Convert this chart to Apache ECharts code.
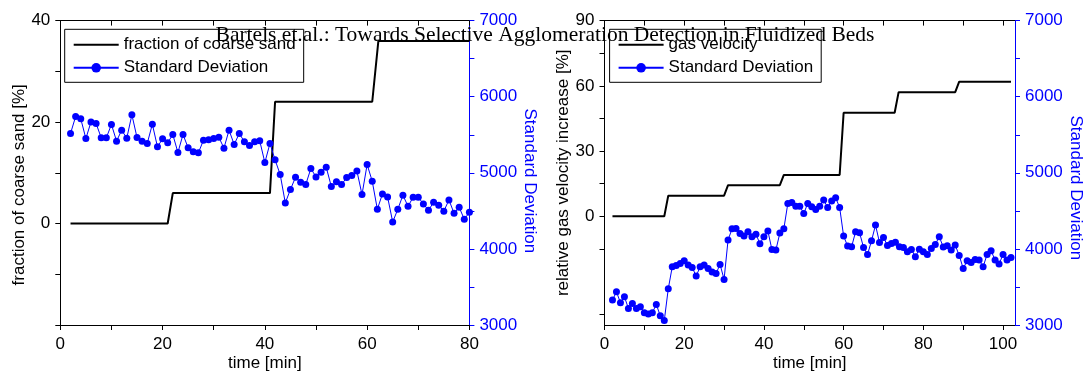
<!DOCTYPE html>
<html><head><meta charset="utf-8">
<script src="https://cdn.jsdelivr.net/npm/echarts@6/dist/echarts.min.js"></script>
<style>html,body{margin:0;padding:0;background:#fff}#c{width:1086px;height:371px}</style>
</head><body><div id="c"></div>
<script>
// ---------- DATA ----------
const titleText = 'Bartels et.al.: Towards Selective Agglomeration Detection in Fluidized Beds';

// Left panel: fraction of coarse sand (step line)
const fracTime = [2, 21, 22, 41, 42, 61, 62.2, 80];
const fracValue = [0, 0, 6, 6, 24, 24, 36, 36];

// Left panel: standard deviation, sampled every minute
const leftSdTime = [2,3,4,5,6,7,8,9,10,11,12,13,14,15,16,17,18,19,20,21,22,23,24,25,26,27,28,29,30,31,32,33,34,35,36,37,38,39,40,41,42,43,44,45,46,47,48,49,50,51,52,53,54,55,56,57,58,59,60,61,62,63,64,65,66,67,68,69,70,71,72,73,74,75,76,77,78,79,80];
const leftSdValue = [5517,5740,5710,5451,5666,5648,5460,5460,5635,5416,
  5560,5455,5762,5464,5416,5385,5639,5341,5446,5394,
  5503,5267,5503,5328,5275,5262,5429,5433,5451,5468,
  5324,5560,5372,5517,5407,5359,5407,5420,5135,5385,
  5170,4977,4604,4780,4942,4876,4846,5056,4946,5008,
  5074,4819,4881,4846,4938,4964,5025,4714,5109,4889,
  4521,4723,4683,4354,4521,4705,4560,4679,4679,4591,
  4508,4613,4574,4495,4644,4468,4547,4389,4482];

// Right panel: relative gas velocity increase (step line)
const gasTime = [2, 15, 16, 30, 31, 44, 45, 59, 60, 72.8, 73.8, 88, 89, 102];
const gasValue = [0, 0, 9.5, 9.5, 14.3, 14.3, 19, 19, 47.6, 47.6, 57.1, 57.1, 61.9, 61.9];

// Right panel: standard deviation, sampled every minute
const rightSdTime = [2,3,4,5,6,7,8,9,10,11,12,13,14,15,16,17,18,19,20,21,22,23,24,25,26,27,28,29,30,31,32,33,34,35,36,37,38,39,40,41,42,43,44,45,46,47,48,49,50,51,52,53,54,55,56,57,58,59,60,61,62,63,64,65,66,67,68,69,70,71,72,73,74,75,76,77,78,79,80,81,82,83,84,85,86,87,88,89,90,91,92,93,94,95,96,97,98,99,100,101,102];
const rightSdValue = [3327,3437,3292,3371,3218,3284,3218,3240,3161,3143,
  3161,3270,3121,3060,3476,3765,3783,3809,3844,3787,
  3757,3643,3765,3787,3743,3695,3678,3796,3599,4116,
  4265,4269,4203,4168,4225,4160,4194,4068,4160,4234,
  3993,3984,4208,4265,4598,4611,4562,4562,4466,4598,
  4554,4519,4562,4641,4545,4628,4672,4545,4168,4037,
  4028,4225,4212,4019,3927,4107,4313,4085,4151,4046,
  4072,4089,4028,4019,3962,3993,3897,3997,3962,3927,
  4006,4059,4160,4024,4041,3984,4050,3914,3743,3844,
  3822,3862,3853,3765,3927,3976,3853,3800,3927,3853,3888];

// Tick / label values
const leftXTicks = [0,10,20,30,40,50,60,70,80];
const leftXLabels = [0,20,40,60,80];
const leftYTicks = [-20,-10,0,10,20,30,40];
const leftYLabels = [0,20,40];
const rightXTicks = [0,10,20,30,40,50,60,70,80,90,100];
const rightXLabels = [0,20,40,60,80,100];
const rightYTicks = [-45,-15,0,15,30,45,60,75,90];
const rightYLabels = [0,30,60,90];
const sdTicks = [3000,3500,4000,4500,5000,5500,6000,6500,7000];
const sdLabels = [3000,4000,5000,6000,7000];

// ---------- CHART ----------
const FONT = 'Liberation Sans';
const BLUE = '#0000ff';
const zip = (a, b) => a.map((x, i) => [x, b[i]]);
const plain = v => String(v);
const LINE_ICON = 'path://M0,0 L45,0 L45,2 L0,2 Z';

function xAx(grid, max, ticks, labels, top) {
  return {
    type: 'value', gridIndex: grid, position: top ? 'top' : 'bottom', min: 0, max: max,
    axisLine: { show: true, onZero: false, lineStyle: { color: '#000', width: 1 } },
    axisTick: { show: true, inside: !!top, length: 5, customValues: ticks, lineStyle: { color: '#000', width: 1 } },
    axisLabel: { show: !top, customValues: labels, formatter: plain, margin: 11, fontSize: 17, color: '#000', fontFamily: FONT },
    splitLine: { show: false },
    name: top ? '' : 'time [min]', nameLocation: 'middle', nameGap: 30, nameMoveOverlap: false,
    nameTextStyle: { fontSize: 17, color: '#000', fontFamily: FONT }
  };
}
function yAx(grid, pos, min, max, ticks, labels, color, name, gap, rot, pad) {
  return {
    type: 'value', gridIndex: grid, position: pos, min: min, max: max,
    axisLine: { show: true, onZero: false, lineStyle: { color: color, width: 1 } },
    axisTick: { show: true, inside: false, length: 5, customValues: ticks, lineStyle: { color: color, width: 1 } },
    axisLabel: { customValues: labels, formatter: plain, margin: 10, fontSize: 17, color: color, fontFamily: FONT },
    splitLine: { show: false },
    name: name, nameLocation: 'middle', nameGap: gap, nameRotate: rot,
    nameTextStyle: { fontSize: 17, color: color, fontFamily: FONT, padding: pad }
  };
}
function legendBox(left, firstName) {
  return {
    data: [{ name: firstName, icon: LINE_ICON }, 'Standard Deviation'],
    orient: 'vertical', left: left, top: 29.3,
    padding: [7, 8, 6, 8], itemGap: 6, itemWidth: 45, itemHeight: 12,
    borderColor: '#000', borderWidth: 1, borderRadius: 0, backgroundColor: '#fff',
    textStyle: { fontSize: 17, color: '#000', fontFamily: FONT }
  };
}

const chart = echarts.init(document.getElementById('c'), null, { renderer: 'canvas' });
chart.setOption({
  animation: false,
  backgroundColor: '#fff',
  title: {
    text: titleText, left: 545, textAlign: 'center', top: 24, padding: 0,
    textStyle: { fontFamily: 'Liberation Serif', fontSize: 21.5, fontWeight: 'normal', color: '#000' }
  },
  legend: [legendBox(64.7, 'fraction of coarse sand'), legendBox(609.6, 'gas velocity')],
  grid: [
    { left: 60.3, top: 20.6, width: 409.1, height: 304.4, containLabel: false, outerBoundsMode: 'none' },
    { left: 604.5, top: 20.6, width: 410.5, height: 304.4, containLabel: false, outerBoundsMode: 'none' }
  ],
  xAxis: [
    xAx(0, 80, leftXTicks, leftXLabels, false),
    xAx(0, 80, leftXTicks, leftXLabels, true),
    xAx(1, 103, rightXTicks, rightXLabels, false),
    xAx(1, 103, rightXTicks, rightXLabels, true)
  ],
  yAxis: [
    yAx(0, 'left', -20, 40, leftYTicks, leftYLabels, '#000', 'fraction of coarse sand [%]', 30, 90, [0, 24, 0, 0]),
    yAx(0, 'right', 3000, 7000, sdTicks, sdLabels, BLUE, 'Standard Deviation', 41, -90, [0, 0, 0, 16]),
    yAx(1, 'left', -50, 90, rightYTicks, rightYLabels, '#000', 'relative gas velocity increase [%]', 32, 90, 0),
    yAx(1, 'right', 3000, 7000, sdTicks, sdLabels, BLUE, 'Standard Deviation', 46, -90, [0, 0, 0, 30])
  ],
  series: [
    { type: 'line', name: 'fraction of coarse sand', xAxisIndex: 0, yAxisIndex: 0,
      data: zip(fracTime, fracValue), symbol: 'none',
      lineStyle: { color: '#000', width: 2 }, itemStyle: { color: '#000' } },
    { type: 'line', name: 'Standard Deviation', xAxisIndex: 0, yAxisIndex: 1,
      data: zip(leftSdTime, leftSdValue), symbol: 'circle', symbolSize: 7, showSymbol: true, showAllSymbol: true,
      lineStyle: { color: BLUE, width: 1 }, itemStyle: { color: BLUE } },
    { type: 'line', name: 'gas velocity', xAxisIndex: 2, yAxisIndex: 2,
      data: zip(gasTime, gasValue), symbol: 'none',
      lineStyle: { color: '#000', width: 2 }, itemStyle: { color: '#000' } },
    { type: 'line', name: 'Standard Deviation', xAxisIndex: 2, yAxisIndex: 3,
      data: zip(rightSdTime, rightSdValue), symbol: 'circle', symbolSize: 7, showSymbol: true, showAllSymbol: true,
      lineStyle: { color: BLUE, width: 1 }, itemStyle: { color: BLUE } }
  ]
});
</script>
</body></html>
